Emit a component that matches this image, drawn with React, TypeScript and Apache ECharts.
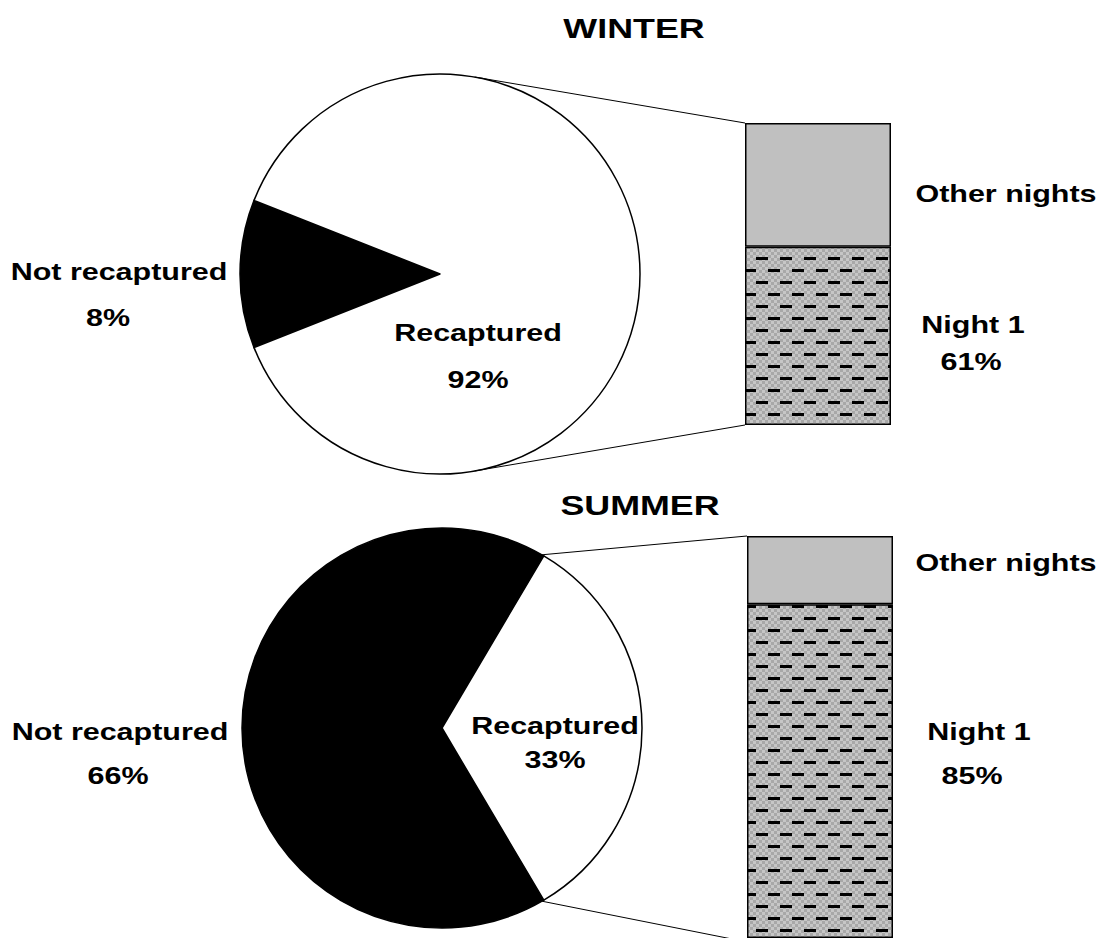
import React, { useEffect, useRef } from "react";
import * as echarts from "echarts";

// ---- data ----
const pieNames = ["Not recaptured", "Recaptured"];
const winterPieValues = [12, 88];
const winterPieText = ["8%", "92%"];
const summerPieValues = [67, 33];
const summerPieText = ["66%", "33%"];

const barNames = ["Night 1", "Other nights"];
const winterBarValues = [59, 41];
const winterBarText = ["61%"];
const summerBarValues = [83, 17];
const summerBarText = ["85%"];

const titles = ["WINTER", "SUMMER"];

// ---- layout ----
const R = 200;
const winterCenter = [440, 274];
const summerCenter = [442, 728];
const winterGrid = { left: 745, top: 123, width: 146, height: 302 };
const summerGrid = { left: 747, top: 536, width: 146, height: 406 };

const FONT = '"Liberation Sans", Arial, sans-serif';
const LS = 24;
const LX = 1.27;

function makePattern(): HTMLCanvasElement {
  const c = document.createElement("canvas");
  c.width = 24;
  c.height = 24;
  const ctx = c.getContext("2d")!;
  for (let y = 0; y < 24; y += 3) {
    for (let x = 0; x < 24; x += 3) {
      ctx.fillStyle = ((x + y) / 3) % 2 === 0 ? "#c6c6c6" : "#a8a8a8";
      ctx.fillRect(x, y, 3, 3);
    }
  }
  ctx.fillStyle = "#000";
  ctx.fillRect(0, 5, 12, 3);
  ctx.fillRect(12, 17, 12, 3);
  return c;
}

function txt(text: string, x: number, y: number, size: number, sx: number) {
  return {
    type: "text",
    x,
    y,
    scaleX: sx,
    z: 100,
    style: {
      text,
      x: 0,
      y: 0,
      fontSize: size,
      fontWeight: "bold",
      fontFamily: FONT,
      fill: "#000",
      align: "center",
      verticalAlign: "middle",
    },
  };
}

function connector(cx: number, cy: number, angDeg: number, tx: number, ty: number) {
  const a = (angDeg * Math.PI) / 180;
  return {
    type: "line",
    z: 50,
    shape: { x1: cx + R * Math.cos(a), y1: cy - R * Math.sin(a), x2: tx, y2: ty },
    style: { stroke: "#000", lineWidth: 1 },
  };
}

export default function App() {
  const ref = useRef<HTMLDivElement>(null);
  useEffect(() => {
    document.body.style.margin = "0";
    const chart = echarts.init(ref.current!, null, { renderer: "svg" });
    const pattern = makePattern();
    const pieStyle = { borderColor: "#000", borderWidth: 1.5 };
    const barItem = (color: any) => ({ color, borderColor: "#000", borderWidth: 1.5 });

    const winterAngle = winterPieValues[0] / (winterPieValues[0] + winterPieValues[1]) * 360;
    const summerAngle = summerPieValues[0] / (summerPieValues[0] + summerPieValues[1]) * 360;

    const grids = [winterGrid, summerGrid];
    const option: any = {
      animation: false,
      backgroundColor: "#fff",
      grid: grids.map((g) => ({ ...g, containLabel: false })),
      xAxis: grids.map((_, i) => ({ type: "category", gridIndex: i, data: ["bar"], show: false })),
      yAxis: grids.map((_, i) => ({ type: "value", gridIndex: i, min: 0, max: 100, show: false })),
      series: [
        {
          type: "pie",
          center: winterCenter,
          radius: R,
          startAngle: 180 + winterAngle / 2,
          clockwise: true,
          label: { show: false },
          labelLine: { show: false },
          silent: true,
          data: pieNames.map((n, i) => ({
            name: n,
            value: winterPieValues[i],
            itemStyle: { ...pieStyle, color: i === 0 ? "#000" : "#fff" },
          })),
        },
        {
          type: "pie",
          center: summerCenter,
          radius: R,
          startAngle: 180 + summerAngle / 2,
          clockwise: true,
          label: { show: false },
          labelLine: { show: false },
          silent: true,
          data: pieNames.map((n, i) => ({
            name: n,
            value: summerPieValues[i],
            itemStyle: { ...pieStyle, color: i === 0 ? "#000" : "#fff" },
          })),
        },
        {
          type: "bar", name: barNames[0], xAxisIndex: 0, yAxisIndex: 0, stack: "w", barWidth: "100%",
          data: [winterBarValues[0]], itemStyle: barItem({ image: pattern, repeat: "repeat" }),
        },
        {
          type: "bar", name: barNames[1], xAxisIndex: 0, yAxisIndex: 0, stack: "w", barWidth: "100%",
          data: [winterBarValues[1]], itemStyle: barItem("#c0c0c0"),
        },
        {
          type: "bar", name: barNames[0], xAxisIndex: 1, yAxisIndex: 1, stack: "s", barWidth: "100%",
          data: [summerBarValues[0]], itemStyle: barItem({ image: pattern, repeat: "repeat" }),
        },
        {
          type: "bar", name: barNames[1], xAxisIndex: 1, yAxisIndex: 1, stack: "s", barWidth: "100%",
          data: [summerBarValues[1]], itemStyle: barItem("#c0c0c0"),
        },
      ],
      graphic: [
        connector(winterCenter[0], winterCenter[1], 80, winterGrid.left, winterGrid.top),
        connector(winterCenter[0], winterCenter[1], -80, winterGrid.left, winterGrid.top + winterGrid.height),
        connector(summerCenter[0], summerCenter[1], 60, summerGrid.left, summerGrid.top),
        connector(summerCenter[0], summerCenter[1], -60, summerGrid.left, summerGrid.top + summerGrid.height),
        txt(titles[0], 634, 28, 28, 1.28),
        txt(titles[1], 640, 505, 28, 1.28),
        txt(pieNames[0], 119, 272, LS, LX),
        txt(winterPieText[0], 108, 318, LS, LX),
        txt(pieNames[1], 478, 333, LS, LX),
        txt(winterPieText[1], 478, 380, LS, LX),
        txt(barNames[1], 1006, 194, LS, LX),
        txt(barNames[0], 973, 325, LS, LX),
        txt(winterBarText[0], 971, 362, LS, LX),
        txt(pieNames[0], 120, 732, LS, LX),
        txt(summerPieText[0], 118, 776, LS, LX),
        txt(pieNames[1], 555, 726, LS, LX),
        txt(summerPieText[1], 555, 760, LS, LX),
        txt(barNames[1], 1006, 563, LS, LX),
        txt(barNames[0], 979, 732, LS, LX),
        txt(summerBarText[0], 972, 776, LS, LX),
      ],
    };
    chart.setOption(option);
    return () => chart.dispose();
  }, []);
  return <div ref={ref} style={{ width: 1099, height: 938 }} />;
}
